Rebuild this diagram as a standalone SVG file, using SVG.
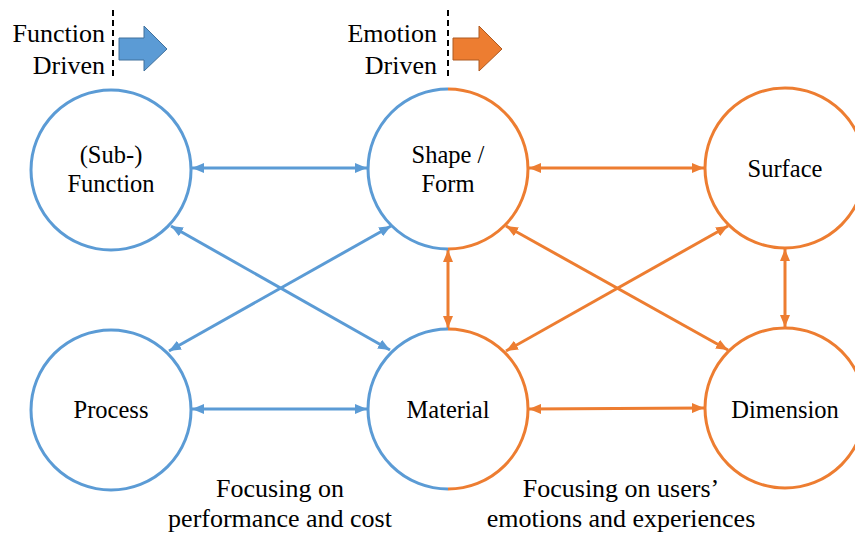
<svg xmlns="http://www.w3.org/2000/svg" width="855" height="535" viewBox="0 0 855 535">
<style>
.hdr{font-size:26px;text-anchor:end}
.lbl{font-size:24.5px;text-anchor:middle}
.foot{font-size:26px;text-anchor:middle}
.cb{fill:none;stroke:#5B9BD5;stroke-width:3}
.co{fill:none;stroke:#ED7D31;stroke-width:3}
.lb{stroke:#5B9BD5;stroke-width:3;fill:none;marker-start:url(#ab);marker-end:url(#ab)}
.lo{stroke:#ED7D31;stroke-width:3;fill:none;marker-start:url(#ao);marker-end:url(#ao)}
.dash{stroke:#000;stroke-width:2;stroke-dasharray:6 4}
</style>
<defs>
<marker id="ab" viewBox="0 0 12 10" refX="12" refY="5" markerWidth="12" markerHeight="10" markerUnits="userSpaceOnUse" orient="auto-start-reverse"><path d="M0,0 L12,5 L0,10 Z" fill="#5B9BD5"/></marker>
<marker id="ao" viewBox="0 0 12 10" refX="12" refY="5" markerWidth="12" markerHeight="10" markerUnits="userSpaceOnUse" orient="auto-start-reverse"><path d="M0,0 L12,5 L0,10 Z" fill="#ED7D31"/></marker>
</defs>
<rect width="855" height="535" fill="#fff"/>
<g font-family="Liberation Serif, DejaVu Serif, serif" fill="#000">
<g id="legend-function">
<text class="hdr" x="105" y="42">Function</text>
<text class="hdr" x="105" y="74">Driven</text>
<line class="dash" x1="113" y1="10" x2="113" y2="78"/>
<polygon points="119,38 144,38 144,26 167,49 144,71 144,60 119,60" fill="#5B9BD5" stroke="#41719C" stroke-width="1"/>
</g>
<g id="legend-emotion">
<text class="hdr" x="437" y="42">Emotion</text>
<text class="hdr" x="437" y="74">Driven</text>
<line class="dash" x1="448" y1="10" x2="448" y2="78"/>
<polygon points="453,38 479,38 479,26 502,49 479,71 479,60 453,60" fill="#ED7D31" stroke="#AE5A21" stroke-width="1"/>
</g>

<g id="connectors">
<line class="lb" x1="192" y1="168" x2="367" y2="168"/>
<line class="lb" x1="192" y1="409" x2="367" y2="409"/>
<line class="lb" x1="171" y1="226" x2="390" y2="350"/>
<line class="lb" x1="391" y1="226" x2="169" y2="351"/>
<line class="lo" x1="529" y1="168" x2="704" y2="168"/>
<line class="lo" x1="529" y1="409" x2="704" y2="408"/>
<line class="lo" x1="448" y1="250" x2="448" y2="328"/>
<line class="lo" x1="785" y1="249" x2="785" y2="327"/>
<line class="lo" x1="506" y1="226" x2="728" y2="350"/>
<line class="lo" x1="728" y1="226" x2="506" y2="351"/>
</g>

<g id="node-function">
<circle class="cb" cx="111" cy="170" r="80"/>
<text class="lbl" x="111" y="163">(Sub-)</text>
<text class="lbl" x="111" y="192">Function</text>
</g>
<g id="node-shape">
<path class="cb" d="M448,89 A80,80 0 0 0 448,249"/>
<path class="co" d="M448,89 A80,80 0 0 1 448,249"/>
<text class="lbl" x="448" y="163">Shape /</text>
<text class="lbl" x="448" y="192">Form</text>
</g>
<g id="node-surface">
<circle class="co" cx="785" cy="168" r="80"/>
<text class="lbl" x="785" y="177">Surface</text>
</g>
<g id="node-process">
<circle class="cb" cx="111" cy="410" r="80"/>
<text class="lbl" x="111" y="418">Process</text>
</g>
<g id="node-material">
<path class="cb" d="M448,329 A80,80 0 0 0 448,489"/>
<path class="co" d="M448,329 A80,80 0 0 1 448,489"/>
<text class="lbl" x="448" y="418">Material</text>
</g>
<g id="node-dimension">
<circle class="co" cx="785" cy="408" r="80"/>
<text class="lbl" x="785" y="418">Dimension</text>
</g>

<g id="footer">
<text class="foot" x="280" y="497">Focusing on</text>
<text class="foot" x="280" y="527">performance and cost</text>
<text class="foot" x="621" y="497">Focusing on users’</text>
<text class="foot" x="621" y="527">emotions and experiences</text>
</g>
</g>
</svg>
